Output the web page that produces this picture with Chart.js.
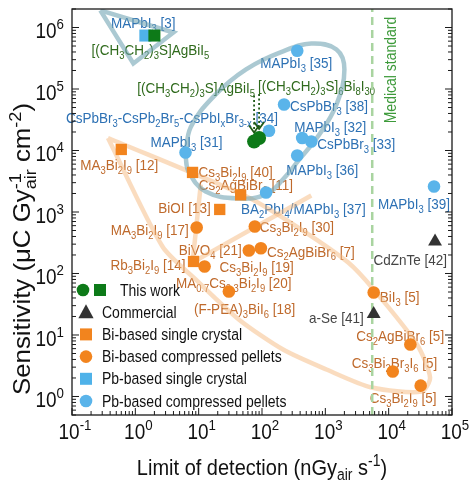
<!DOCTYPE html>
<html>
<head>
<meta charset="utf-8">
<script src="https://cdn.jsdelivr.net/npm/chart.js@4.4.0/dist/chart.umd.min.js"></script>
<style>
  body { margin: 0; background: #fff; }
</style>
</head>
<body>
<canvas id="lodChart" width="474" height="485"></canvas>
<script>
const FONT = '"Liberation Sans", Arial, Helvetica, sans-serif';
const K = 1.12; // glyphs in the figure are a bit taller than wide

// limit of detection (nGy_air s^-1) and sensitivity (uC Gy_air^-1 cm^-2)
const workPelletNames = ['[(CH_{3}CH_{2})_{3}S]AgBiI_{5}', '[(CH_{3}CH_{2})_{3}S]_{6}Bi_{8}I_{30}'];
const workPelletLod = [75, 90];
const workPelletSens = [1.4e4, 1.6e4];

const workCrystalNames = ['[(CH_{3}CH_{2})_{3}S]AgBiI_{5}'];
const workCrystalLod = [2.0];
const workCrystalSens = [7.4e5];

const commNames = ['a-Se [41]', 'CdZnTe [42]'];
const commLod = [5800, 5.4e4];
const commSens = [22, 330];

const biCrystalNames = ['MA_{3}Bi_{2}I_{9} [12]', 'Cs_{3}Bi_{2}I_{9} [40]', 'Cs_{2}AgBiBr_{6} [11]', 'BiOI [13]', 'Rb_{3}Bi_{2}I_{9} [14]'];
const biCrystalLod = [0.6, 8.0, 46, 21.5, 8.3];
const biCrystalSens = [1.04e4, 4.4e3, 1.9e3, 1.1e3, 157];

const biPelletNames = ['MA_{3}Bi_{2}I_{9} [17]', 'Cs_{3}Bi_{2}I_{9} [30]', 'BiVO_{4} [21]', 'Cs_{2}AgBiBr_{6} [7]', 'Cs_{3}Bi_{2}I_{9} [19]',
  '(F-PEA)_{3}BiI_{6} [18]', 'BiI_{3} [5]', 'Cs_{2}AgBiBr_{6} [5]', 'Cs_{3}Bi_{2}Br_{3}I_{6} [5]', 'Cs_{3}Bi_{2}I_{9} [5]'];
const biPelletLod = [9.3, 77, 62, 96, 12.4, 30, 5800, 2.2e4, 1.16e4, 3.2e4];
const biPelletSens = [560, 580, 237, 257, 130, 51, 49, 7.0, 2.55, 1.5];

const pbCrystalNames = ['MAPbI_{3} [3]'];
const pbCrystalLod = [1.44];
const pbCrystalSens = [7.4e5];

const pbPelletNames = ['MAPbI_{3} [35]', 'CsPbBr_{3} [38]', 'CsPbBr_{3}-CsPb_{2}Br_{5}-CsPbI_{x}Br_{3-x} [34]', 'MAPbI_{3} [32]',
  'CsPbBr_{3} [33]', 'MAPbI_{3} [31]', 'MAPbI_{3} [36]', 'BA_{2}PbI_{4}/MAPbI_{3} [37]', 'MAPbI_{3} [39]'];
const pbPelletLod = [360, 223, 129, 431, 600, 6.2, 360, 116, 5.2e4];
const pbPelletSens = [4.2e5, 5.6e4, 2.1e4, 1.6e4, 1.4e4, 9.3e3, 8.3e3, 2.07e3, 2.6e3];

const medicalStandard = 5500;

// hand drawn group outlines, [lod, sens]
const pbCrystalZone = [[0.28, 1.9e6], [4.0, 8.3e5], [0.93, 2.6e5], [0.28, 1.9e6]];
const pbPelletZone = [[6.2, 8.6e3], [6.9, 4.6e3], [12.9, 2.15e3], [43, 1.66e3], [116, 1.93e3], [215, 3.4e3], [386, 7.1e3],
  [803, 1.82e4], [1.5e3, 5.6e4], [2.0e3, 2.08e5], [1.5e3, 4.4e5], [600, 5.5e5], [215, 4.1e5], [56, 2.08e5],
  [17.3, 7.6e4], [7.5, 2.4e4], [6.2, 8.6e3]];
const biZone = [[0.37, 1.6e4], [2.68, 275], [8.95, 80], [43, 17.9], [215, 5.8], [1.04e3, 2.75], [5.4e3, 1.4], [3.3e4, 1.2],
  [4.5e4, 2.04], [2.8e4, 7.0], [5.8e3, 55], [2.3e3, 151], [416, 519], [56, 1.8e3], [0.37, 1.6e4]];
const biInnerZone = [[10.8, 2.8e3], [8.0, 151], [600, 1.85e3]];

const xDecades = [-1, 0, 1, 2, 3, 4, 5];
const yDecades = [0, 1, 2, 3, 4, 5, 6];

const legendItems = [
  ['This work', 'work'],
  ['Commercial', 'comm'],
  ['Bi-based single crystal', 'biCrystal'],
  ['Bi-based compressed pellets', 'biPellet'],
  ['Pb-based single crystal', 'pbCrystal'],
  ['Pb-based compressed pellets', 'pbPellet']
];

const COLORS = {
  green: '#0d7a18', greenText: '#2f6a1c', orange: '#f2841e', orangeText: '#bf6a2c',
  blue: '#5ab4ea', blueSq: '#4fb2e9', blueText: '#2d71b4', dark: '#333333', darkText: '#454545'
};

const groups = {
  workPellet: { names: workPelletNames, lod: workPelletLod, sens: workPelletSens, text: COLORS.greenText },
  workCrystal: { names: workCrystalNames, lod: workCrystalLod, sens: workCrystalSens, text: COLORS.greenText },
  comm: { names: commNames, lod: commLod, sens: commSens, text: COLORS.darkText },
  biCrystal: { names: biCrystalNames, lod: biCrystalLod, sens: biCrystalSens, text: COLORS.orangeText },
  biPellet: { names: biPelletNames, lod: biPelletLod, sens: biPelletSens, text: COLORS.orangeText },
  pbCrystal: { names: pbCrystalNames, lod: pbCrystalLod, sens: pbCrystalSens, text: COLORS.blueText },
  pbPellet: { names: pbPelletNames, lod: pbPelletLod, sens: pbPelletSens, text: COLORS.blueText }
};

// label offset from its marker, in pixels: [dx, dy, align]
const labelPlace = {
  pbCrystal: [[-2, -13, 'center']],
  workCrystal: [[-4, 14, 'center']],
  workPellet: [[1, -54, 'right'], [-1, -52, 'left']],
  pbPellet: [[-1, 12, 'center'], [6, 1, 'left'], [9, -13, 'right'], [-8, -11, 'left'], [6, 2, 'left'],
    [1, -11, 'center'], [-11, 14, 'left'], [-25, 16, 'left'], [16, 17, 'right']],
  biCrystal: [[-2, 15, 'center'], [6, -1, 'left'], [-42, -10, 'left'], [-9, -2, 'right'], [-8, 3, 'right']],
  biPellet: [[-8, 2, 'right'], [5, 0, 'left'], [-7, -1, 'right'], [6, 3, 'left'], [15, 0, 'left'],
    [-35, 17, 'left'], [6, 4, 'left'], [-54, -9, 'left'], [-41, -9, 'left'], [-51, 12, 'left']],
  comm: [[-10, 4, 'right'], [12, 18, 'right']]
};
const extraLabels = [
  { group: 'biPellet', i: 5, text: 'MA_{0.7}Cs_{0.3}Bi_{2}I_{9} [20]', dx: -53, dy: -9, align: 'left' }
];

function pts(g) {
  return groups[g].lod.map((v, i) => ({ x: v, y: groups[g].sens[i] }));
}
function zone(arr) {
  return arr.map(p => ({ x: p[0], y: p[1] }));
}

// --- rich text with _{sub} and ^{sup}
function tokens(str) {
    const out = [];
    const re = /([_^])\{([^}]*)\}/g;
    let last = 0, m;
    while ((m = re.exec(str))) {
        if (m.index > last) out.push({ t: str.slice(last, m.index), k: 'n' });
        out.push({ t: m[2], k: m[1] === '_' ? 'sub' : 'sup' });
        last = re.lastIndex;
    }
    if (last < str.length) out.push({ t: str.slice(last), k: 'n' });
    return out;
}

function layoutRich(ctx, str, size) {
    const toks = tokens(str);
    const parts = [];
    let w = 0;
    toks.forEach((tk, i) => {
        const fs = tk.k === 'n' ? size : size * 0.7;
        ctx.font = fs + 'px ' + FONT;
        const tw = ctx.measureText(tk.t).width;
        if (tk.k === 'sup' && i > 0 && toks[i - 1].k === 'sub') {
            const start = parts[i - 1].x;
            parts.push({ t: tk.t, k: tk.k, x: start, fs: fs });
            w = Math.max(w, start + tw);
        } else {
            parts.push({ t: tk.t, k: tk.k, x: w, fs: fs });
            w += tw;
        }
    });
    return { parts: parts, w: w };
}

function drawRich(ctx, str, x, y, size, color, align, sx, sy) {
    const lay = layoutRich(ctx, str, size);
    let x0 = 0;
    if (align === 'center') x0 = -lay.w / 2;
    if (align === 'right') x0 = -lay.w;
    ctx.save();
    ctx.translate(x, y);
    ctx.scale(sx || 1, sy || K);
    ctx.fillStyle = color;
    ctx.textAlign = 'left';
    ctx.textBaseline = 'alphabetic';
    const base = size * 0.36;
    lay.parts.forEach(p => {
        ctx.font = p.fs + 'px ' + FONT;
        let yy = base;
        if (p.k === 'sub') yy += size * 0.24;
        if (p.k === 'sup') yy -= size * 0.42;
        ctx.fillText(p.t, x0 + p.x, yy);
    });
    ctx.restore();
    return lay.w;
}

function marker(ctx, style, x, y, r, color) {
    ctx.save();
    ctx.fillStyle = color;
    ctx.beginPath();
    if (style === 'circle') {
        ctx.arc(x, y, r, 0, Math.PI * 2);
    } else if (style === 'rect') {
        ctx.rect(x - r, y - r, 2 * r, 2 * r);
    } else {
        ctx.moveTo(x, y - r);
        ctx.lineTo(x + r * 0.95, y + r * 0.75);
        ctx.lineTo(x - r * 0.95, y + r * 0.75);
        ctx.closePath();
    }
    ctx.fill();
    ctx.restore();
}

const labelsPlugin = {
    id: 'labels',
    beforeDatasetsDraw(chart) {
        const ctx = chart.ctx;
        const sx = chart.scales.x, sy = chart.scales.y;
        Object.keys(labelPlace).forEach(g => {
            const grp = groups[g];
            labelPlace[g].forEach((pl, i) => {
                const px = sx.getPixelForValue(grp.lod[i]);
                const py = sy.getPixelForValue(grp.sens[i]);
                drawRich(ctx, grp.names[i], px + pl[0], py + pl[1], 13.5, grp.text, pl[2]);
            });
        });
        extraLabels.forEach(l => {
            const grp = groups[l.group];
            const px = sx.getPixelForValue(grp.lod[l.i]);
            const py = sy.getPixelForValue(grp.sens[l.i]);
            drawRich(ctx, l.text, px + l.dx, py + l.dy, 13.5, grp.text, l.align);
        });

        // "Medical standard"
        const mx = sx.getPixelForValue(medicalStandard);
        ctx.save();
        ctx.translate(mx + 18, 70);
        ctx.rotate(-Math.PI / 2);
        drawRich(ctx, 'Medical standard', 0, 0, 14, '#3d9a3a', 'center', 1, K);
        ctx.restore();

        // dotted arrows from the two "this work" names to their points
        ctx.save();
        ctx.strokeStyle = '#1f5a16';
        ctx.lineWidth = 1.8;
        workPelletLod.forEach((v, i) => {
            const px = sx.getPixelForValue(v);
            const py = sy.getPixelForValue(workPelletSens[i]);
            const y0 = py + labelPlace.workPellet[i][1] + 8;
            const y1 = py - 9;
            ctx.setLineDash([2, 2.5]);
            ctx.beginPath();
            ctx.moveTo(px, y0);
            ctx.lineTo(px, y1);
            ctx.stroke();
            ctx.setLineDash([]);
            ctx.beginPath();
            ctx.moveTo(px - 5, y1 - 7);
            ctx.lineTo(px, y1);
            ctx.lineTo(px + 5, y1 - 7);
            ctx.stroke();
        });
        ctx.restore();
    },
    afterDraw(chart) {
        const ctx = chart.ctx;
        const a = chart.chartArea;
        const sx = chart.scales.x, sy = chart.scales.y;
        ctx.save();
        ctx.strokeStyle = '#1a1a1a';
        ctx.lineWidth = 1.3;
        ctx.strokeRect(a.left, a.top, a.right - a.left, a.bottom - a.top);

        ctx.lineWidth = 1;
        ctx.beginPath();
        // x ticks (bottom, inward)
        for (let d = -1; d <= 5; d++) {
            for (let m = 1; m <= 9; m++) {
                const v = m * Math.pow(10, d);
                if (v > 1e5) break;
                const p = sx.getPixelForValue(v);
                const len = m === 1 ? 7 : 4;
                ctx.moveTo(p, a.bottom);
                ctx.lineTo(p, a.bottom - len);
            }
        }
        // y ticks (left and right, inward)
        for (let d = -1; d <= 6; d++) {
            for (let m = 1; m <= 9; m++) {
                const v = m * Math.pow(10, d);
                if (v < 0.5 || v > 2e6) continue;
                const p = sy.getPixelForValue(v);
                const len = m === 1 ? 7 : 4;
                ctx.moveTo(a.left, p);
                ctx.lineTo(a.left + len, p);
                ctx.moveTo(a.right, p);
                ctx.lineTo(a.right - len, p);
            }
        }
        ctx.stroke();
        ctx.restore();

        xDecades.forEach(d => {
            drawRich(ctx, '10^{' + d + '}', sx.getPixelForValue(Math.pow(10, d)) + 3, a.bottom + 16, 19, '#111', 'center');
        });
        yDecades.forEach(d => {
            drawRich(ctx, '10^{' + d + '}', a.left - 8, sy.getPixelForValue(Math.pow(10, d)) + 3, 19, '#111', 'right');
        });

        // axis titles
        drawRich(ctx, 'Limit of detection (nGy_{air} s^{-1})', (a.left + a.right) / 2, 467, 20, '#111', 'center');
        ctx.save();
        ctx.translate(22, 249);
        ctx.rotate(-Math.PI / 2);
        const ytitle = 'Sensitivity (\u03bcC Gy_{air}^{-1} cm^{-2})';
        const tw = layoutRich(ctx, ytitle, 21).w;
        drawRich(ctx, ytitle, 0, 0, 21, '#111', 'center', 292 / tw, K);
        ctx.restore();

        // legend
        legendItems.forEach((it, i) => {
            const y = 290 + i * 22.2;
            if (it[1] === 'work') {
                marker(ctx, 'circle', 83, y, 6.3, COLORS.green);
                marker(ctx, 'rect', 100, y, 6, COLORS.green);
                drawRich(ctx, it[0], 120, y, 14, '#111', 'left');
                return;
            }
            const st = { comm: ['triangle', COLORS.dark, 8], biCrystal: ['rect', COLORS.orange, 6],
                biPellet: ['circle', COLORS.orange, 6.3], pbCrystal: ['rect', COLORS.blueSq, 6],
                pbPellet: ['circle', COLORS.blue, 6.3] }[it[1]];
            marker(ctx, st[0], 86, y, st[2], st[1]);
            drawRich(ctx, it[0], 102, y, 14, '#111', 'left');
        });
    }
};

function pointSet(g, style, color, radius) {
    return {
        data: pts(g),
        pointStyle: style,
        pointRadius: radius,
        pointBackgroundColor: color,
        pointBorderWidth: 0,
        showLine: false
    };
}
function zoneSet(arr, color, tension) {
    return {
        data: zone(arr),
        showLine: true,
        borderColor: color,
        borderWidth: 4.5,
        pointRadius: 0,
        tension: tension,
        fill: false
    };
}

const ctx = document.getElementById('lodChart').getContext('2d');
new Chart(ctx, {
    type: 'scatter',
    data: {
        datasets: [
            pointSet('workCrystal', 'rect', COLORS.green, 8.5),
            pointSet('workPellet', 'circle', COLORS.green, 7),
            pointSet('pbCrystal', 'rect', COLORS.blueSq, 8.5),
            pointSet('comm', 'triangle', COLORS.dark, 8),
            pointSet('biCrystal', 'rect', COLORS.orange, 8),
            pointSet('biPellet', 'circle', COLORS.orange, 6.3),
            pointSet('pbPellet', 'circle', COLORS.blue, 6.3),
            {
                data: [{ x: medicalStandard, y: 0.5 }, { x: medicalStandard, y: 2e6 }],
                showLine: true,
                borderColor: '#a9d4a0',
                borderWidth: 2.5,
                borderDash: [8, 5],
                pointRadius: 0
            },
            zoneSet(pbCrystalZone, 'rgba(115,165,180,0.6)', 0),
            zoneSet(pbPelletZone, 'rgba(115,165,180,0.6)', 0.4),
            zoneSet(biZone, 'rgba(245,186,128,0.5)', 0.25),
            zoneSet(biInnerZone, 'rgba(245,186,128,0.5)', 0)
        ]
    },
    options: {
        responsive: false,
        animation: false,
        layout: { padding: { left: 72, right: 22, top: 9, bottom: 70 } },
        plugins: {
            legend: { display: false },
            tooltip: { enabled: false }
        },
        scales: {
            x: { type: 'logarithmic', min: 0.1, max: 1e5, display: false },
            y: { type: 'logarithmic', min: 0.5, max: 2e6, display: false }
        }
    },
    plugins: [labelsPlugin]
});
</script>
</body>
</html>
